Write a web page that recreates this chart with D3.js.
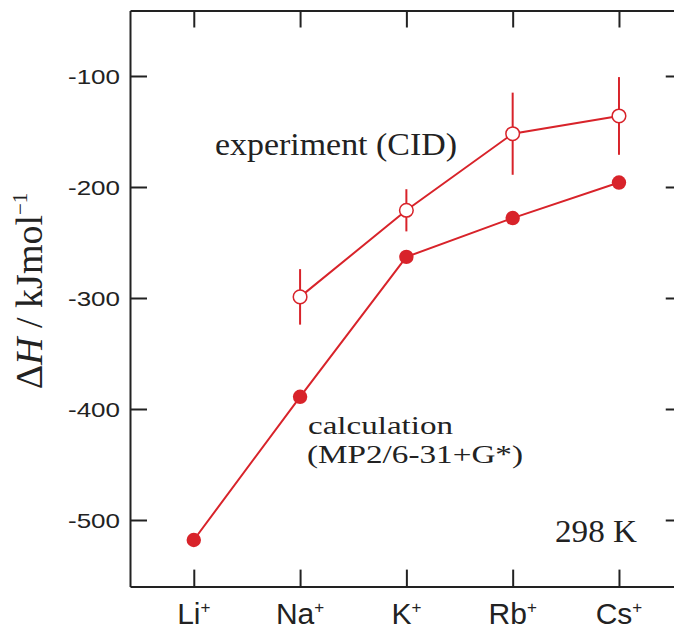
<!DOCTYPE html>
<html>
<head>
<meta charset="utf-8">
<script src="https://cdn.jsdelivr.net/npm/d3@7"></script>
<style>
  html, body { margin: 0; padding: 0; background: #fff; }
  svg { display: block; }
</style>
</head>
<body>
<svg id="chart" width="674" height="629"></svg>
<script>
// ---- data ----
const ions = ["Li", "Na", "K", "Rb", "Cs"];
const calcValues = [-518, -389, -263, -228, -196];
const expIons = ["Na", "K", "Rb", "Cs"];
const expValues = [-299, -221, -152, -136];
const expErrors = [25, 19, 37, 35];
const yTicks = [-500, -400, -300, -200, -100];

const red = "#d8232a";
const axisColor = "#222";

const svg = d3.select("#chart");

const x = d3.scaleLinear().domain([-0.6, 4.6]).range([130, 682.75]);
const y = d3.scaleLinear().domain([-560, -41]).range([586.6, 10.5]);
const xi = name => x(ions.indexOf(name));

// frame / axes with inward ticks
const axLeft = svg.append("g").attr("transform", `translate(${x.range()[0]},0)`)
  .call(d3.axisLeft(y).tickValues(yTicks).tickSizeInner(-17).tickSizeOuter(0).tickPadding(10).tickFormat(d => String(d)));
const axRight = svg.append("g").attr("transform", `translate(${x.range()[1]},0)`)
  .call(d3.axisRight(y).tickValues(yTicks).tickSizeInner(-17).tickSizeOuter(0).tickFormat(() => ""));
const axBottom = svg.append("g").attr("transform", `translate(0,${y.range()[0]})`)
  .call(d3.axisBottom(x).tickValues(d3.range(ions.length)).tickSizeInner(-17).tickSizeOuter(0).tickFormat(() => ""));
const axTop = svg.append("g").attr("transform", `translate(0,${y.range()[1]})`)
  .call(d3.axisTop(x).tickValues(d3.range(ions.length)).tickSizeInner(-17).tickSizeOuter(0).tickFormat(() => ""));

[axLeft, axRight, axBottom, axTop].forEach(g => {
  g.selectAll(".domain").attr("stroke", axisColor).attr("stroke-width", 2);
  g.selectAll(".tick line").attr("stroke", axisColor).attr("stroke-width", 2);
});

axLeft.selectAll(".tick text")
  .attr("font-family", "'Liberation Sans', Arial, sans-serif")
  .attr("font-size", 21)
  .attr("fill", "#222")
  .attr("textLength", 52)
  .attr("lengthAdjust", "spacingAndGlyphs")
  .attr("dy", "0.36em");

// x labels with superscript +
const xl = svg.append("g")
  .attr("font-family", "'Liberation Sans', Arial, sans-serif")
  .attr("fill", "#222");
ions.forEach((name, i) => {
  const t = xl.append("text")
    .attr("x", x(i))
    .attr("y", 623.5)
    .attr("text-anchor", "middle")
    .attr("font-size", 30)
    .attr("fill", "#222");
  t.append("tspan").text(name);
  t.append("tspan").attr("font-size", 17).attr("dy", -11).text("+");
});

// y title
const yt = svg.append("text")
  .attr("transform", "translate(42,291) rotate(-90)")
  .attr("text-anchor", "middle")
  .attr("font-family", "'Liberation Serif', 'Times New Roman', serif")
  .attr("font-size", 38)
  .attr("fill", "#222");
yt.append("tspan").text("Δ");
yt.append("tspan").attr("font-style", "italic").text("H");
yt.append("tspan").text(" / kJmol");
yt.append("tspan").attr("font-size", 21).attr("dy", -15).text("−1");

// lines
const line = d3.line().x(d => d[0]).y(d => d[1]);
const calcPts = ions.map((n, i) => [xi(n), y(calcValues[i])]);
const expPts = expIons.map((n, i) => [xi(n), y(expValues[i])]);

svg.append("path").attr("d", line(calcPts)).attr("fill", "none").attr("stroke", red).attr("stroke-width", 2);
svg.append("path").attr("d", line(expPts)).attr("fill", "none").attr("stroke", red).attr("stroke-width", 2);

// error bars
svg.append("g").selectAll("line").data(expIons).join("line")
  .attr("x1", n => xi(n)).attr("x2", n => xi(n))
  .attr("y1", (n, i) => y(expValues[i] + expErrors[i]))
  .attr("y2", (n, i) => y(expValues[i] - expErrors[i]))
  .attr("stroke", red).attr("stroke-width", 2);

// markers
svg.append("g").selectAll("circle").data(calcPts).join("circle")
  .attr("cx", d => d[0]).attr("cy", d => d[1]).attr("r", 7.2)
  .attr("fill", red);
svg.append("g").selectAll("circle").data(expPts).join("circle")
  .attr("cx", d => d[0]).attr("cy", d => d[1]).attr("r", 6.8)
  .attr("fill", "#fff").attr("stroke", red).attr("stroke-width", 1.5);

// annotations
const serif = "'Liberation Serif', 'Times New Roman', serif";
svg.append("text").attr("x", 215).attr("y", 155)
  .attr("font-family", serif).attr("font-size", 32).attr("fill", "#222")
  .attr("textLength", 242).attr("lengthAdjust", "spacingAndGlyphs")
  .text("experiment (CID)");
svg.append("text").attr("x", 308).attr("y", 434)
  .attr("font-family", serif).attr("font-size", 26).attr("fill", "#222")
  .attr("textLength", 145).attr("lengthAdjust", "spacingAndGlyphs")
  .text("calculation");
svg.append("text").attr("x", 307).attr("y", 463)
  .attr("font-family", serif).attr("font-size", 26).attr("fill", "#222")
  .attr("textLength", 216).attr("lengthAdjust", "spacingAndGlyphs")
  .text("(MP2/6-31+G*)");
svg.append("text").attr("x", 555).attr("y", 542)
  .attr("font-family", serif).attr("font-size", 32).attr("fill", "#222")
  .attr("textLength", 82).attr("lengthAdjust", "spacingAndGlyphs")
  .text("298 K");
</script>
</body>
</html>
